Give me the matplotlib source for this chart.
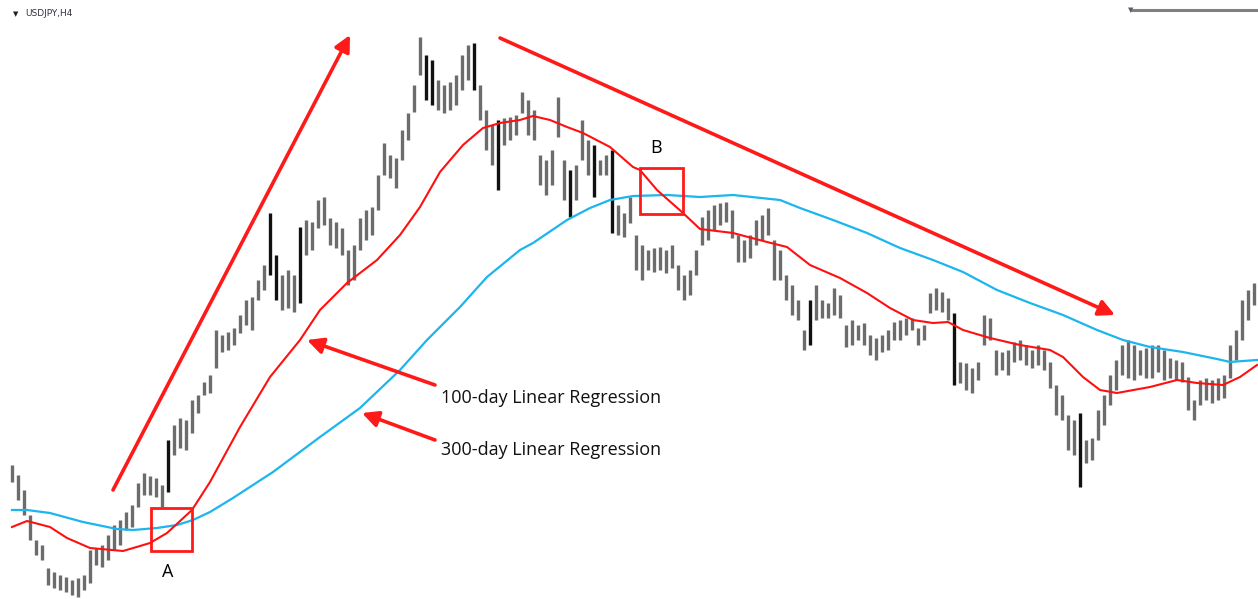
import numpy as np
import matplotlib.pyplot as plt
from matplotlib.patches import Rectangle

# USDJPY H4 bars (high / low), one every 6 time units starting at 12
bar_highs = [135, 125, 110, 85, 60, 55, 32, 28, 25, 23,
             20, 22, 25, 50, 52, 55, 65, 75, 80, 88,
             95, 117, 127, 124, 122, 115, 160, 175, 182, 180,
             200, 205, 218, 225, 270, 265, 268, 272, 285, 300,
             303, 320, 335, 387, 345, 325, 330, 325, 373, 380,
             378, 400, 403, 382, 378, 372, 350, 355, 382, 390,
             393, 425, 457, 445, 442, 470, 487, 515, 563, 545,
             540, 520, 515, 518, 525, 545, 555, 557, 515, 490,
             475, 480, 482, 483, 485, 508, 500, 490, 445, 440,
             450, 503, 440, 430, 435, 480, 460, 455, 440, 445,
             450, 395, 387, 403, 365, 355, 350, 352, 353, 350,
             355, 335, 325, 330, 350, 383, 390, 395, 397, 398,
             390, 365, 360, 365, 380, 385, 392, 360, 350, 325,
             315, 300, 270, 300, 315, 300, 297, 312, 305, 275,
             280, 275, 277, 265, 262, 265, 270, 278, 280, 282,
             282, 272, 275, 307, 312, 308, 302, 287, 238, 237,
             232, 238, 285, 282, 250, 248, 250, 258, 260, 255,
             250, 255, 250, 238, 215, 205, 185, 180, 187, 160,
             162, 190, 205, 225, 240, 255, 260, 255, 250, 252,
             255, 255, 250, 242, 240, 238, 223, 200, 220, 222,
             220, 222, 225, 255, 270, 300, 310, 317]
bar_lows = [118, 100, 85, 60, 45, 40, 15, 12, 10, 8,
            5, 3, 10, 17, 35, 33, 40, 50, 55, 70,
            73, 93, 105, 105, 103, 93, 108, 145, 152, 150,
            167, 187, 205, 207, 232, 248, 250, 255, 267, 275,
            270, 300, 310, 325, 300, 290, 292, 288, 297, 345,
            350, 372, 375, 355, 352, 345, 315, 320, 350, 360,
            365, 390, 425, 422, 412, 440, 460, 488, 525, 500,
            495, 490, 487, 490, 495, 510, 520, 510, 480, 450,
            435, 410, 455, 460, 465, 487, 465, 460, 415, 405,
            415, 463, 400, 383, 400, 440, 425, 403, 425, 425,
            367, 365, 363, 377, 330, 320, 330, 328, 330, 327,
            332, 310, 300, 305, 325, 355, 360, 370, 375, 378,
            362, 338, 338, 342, 355, 360, 365, 320, 320, 300,
            285, 280, 250, 255, 280, 282, 282, 285, 282, 253,
            255, 260, 255, 245, 240, 248, 250, 260, 260, 265,
            270, 255, 260, 287, 290, 288, 280, 215, 217, 210,
            207, 220, 255, 260, 225, 230, 225, 238, 240, 235,
            232, 235, 230, 212, 185, 180, 150, 145, 113, 137,
            140, 160, 175, 195, 210, 225, 222, 220, 225, 222,
            222, 228, 220, 222, 220, 218, 190, 180, 195, 200,
            197, 200, 202, 222, 240, 260, 280, 295]

# 100-day linear regression (red)
lr100_t = [12, 27, 50, 67, 90, 123, 140, 150, 167, 192, 210, 240, 270, 300, 320,
           347, 377, 400, 420, 440, 463, 483, 500, 520, 533, 550, 567, 583, 610,
           633, 640, 657, 683, 700, 733, 767, 787, 810, 840, 867, 890, 913, 933,
           948, 963, 990, 1020, 1050, 1063, 1083, 1100, 1117, 1150, 1177, 1197,
           1223, 1240, 1257]
lr100_v = [73, 79, 73, 62, 52, 49, 54, 57, 67, 90, 118, 173, 223, 260, 290,
           317, 340, 365, 393, 428, 455, 472, 477, 480, 484, 480, 473, 467, 453,
           433, 430, 410, 387, 371, 367, 358, 353, 335, 322, 307, 292, 280, 277,
           278, 270, 262, 255, 250, 243, 223, 210, 207, 213, 220, 217,
           215, 223, 235]

# 300-day linear regression (blue)
lr300_t = [12, 27, 50, 83, 117, 133, 157, 177, 193, 210, 233, 273, 320, 360, 400,
           427, 460, 487, 520, 533, 567, 590, 610, 633, 667, 700, 733, 780, 800,
           833, 867, 900, 933, 963, 997, 1030, 1063, 1097, 1123, 1150, 1183, 1217,
           1230, 1257]
lr300_v = [90, 90, 87, 78, 71, 70, 72, 75, 80, 88, 102, 128, 163, 192, 230,
           260, 293, 323, 350, 357, 380, 392, 400, 404, 405, 403, 405, 400, 392,
           380, 367, 352, 340, 328, 310, 297, 285, 270, 260, 253, 248, 241,
           238, 240]

fig = plt.figure(figsize=(12.58, 5.99), dpi=100)
ax = fig.add_axes([0, 0, 1, 1])
ax.set_xlim(0, 1258)
ax.set_ylim(1, 600)
ax.axis("off")

bar_t = np.arange(12, 12 + 6 * len(bar_highs), 6)
highs = np.array(bar_highs)
lows = np.array(bar_lows)
colors = np.where(highs - lows >= 45, "#111111", "#6c6c6c")
ax.vlines(bar_t, lows, highs, colors=colors, lw=2.4, zorder=2)

ax.plot(lr300_t, lr300_v, color="#1cb5ee", lw=1.6, zorder=3)
ax.plot(lr100_t, lr100_v, color="#ff1010", lw=1.5, zorder=3)

red = "#ff1a1a"
big = dict(arrowstyle="-|>", color=red, lw=2.6, mutation_scale=24, shrinkA=0, shrinkB=0)
ax.annotate("", xy=(350, 565), xytext=(113, 110), arrowprops=big)
ax.annotate("", xy=(1115, 285), xytext=(500, 562), arrowprops=big)
ax.annotate("", xy=(307, 260), xytext=(435, 215), arrowprops=big)
ax.annotate("", xy=(362, 187), xytext=(435, 160), arrowprops=big)

ax.text(441, 202, "100-day Linear Regression", fontsize=13, family="Open Sans",
        ha="left", va="center", color="#111111")
ax.text(441, 150, "300-day Linear Regression", fontsize=13, family="Open Sans",
        ha="left", va="center", color="#111111")

ax.add_patch(Rectangle((151, 49), 41, 43, fill=False, ec=red, lw=2, zorder=4))
ax.add_patch(Rectangle((640, 386), 43, 46, fill=False, ec=red, lw=2, zorder=4))
ax.text(168, 28, "A", fontsize=13, family="Open Sans", ha="center", va="center")
ax.text(656, 452, "B", fontsize=13, family="Open Sans", ha="center", va="center")

ax.text(13, 586, "▼", fontsize=5, color="#222222", ha="left", va="center")
ax.text(25, 586, "USDJPY,H4", fontsize=6.5, color="#333344", ha="left", va="center")
ax.plot([1130, 1258], [590, 590], color="#808080", lw=2.2, solid_capstyle="butt")
ax.text(1131, 590, "▼", fontsize=5, color="#556070", ha="center", va="center")

fig.savefig("out.png", dpi=100)
